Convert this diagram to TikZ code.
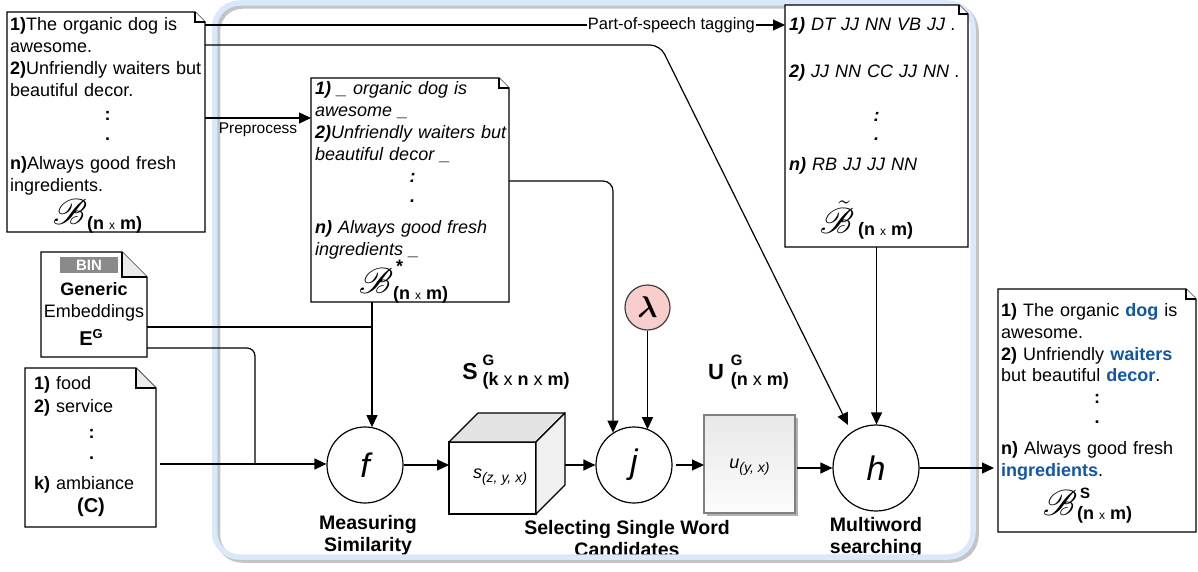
\RequirePackage{fix-cm}
\documentclass[tikz,border=0pt]{standalone}
\usepackage{graphicx}
\usepackage{fontspec}
\setmainfont{Liberation Sans}
\usepackage{mathrsfs}
\usepackage{bm}
\usetikzlibrary{arrows.meta,calc,shadows}
\definecolor{framecol}{HTML}{DAE8FC}
\definecolor{shadowcol}{HTML}{C4C4C4}
\definecolor{hlblue}{HTML}{1257A3}
\definecolor{lamfill}{HTML}{F8CECC}
\definecolor{foldfill}{HTML}{EBEBEB}
\definecolor{binfill}{HTML}{8A8A8A}
\definecolor{cubetop}{HTML}{E3E3E3}
\definecolor{cubeside}{HTML}{F0F0F0}
\newcommand\hl[1]{\textcolor{hlblue}{\textbf{#1}}}
\newcommand\bigB{\scalebox{1.45}{\fontsize{24.88}{24.88}\selectfont$\mathscr{B}$}}
\newcommand\bigBt{\scalebox{1.45}{\fontsize{24.88}{24.88}\selectfont$\tilde{\mathscr{B}}$}}
\newcommand\nxm{{\bfseries\fontsize{18}{18}\selectfont(n {\mdseries\fontsize{12}{12}\selectfont x} m)}}
\newcommand\ctr[1]{\makebox[\linewidth]{\textbf{#1}}}
\newcommand\docout[3]{%
  \draw[docline] (#1.north west) -- ($(#1.north east)+(-#2,0)$) -- ($(#1.north east)+(0,#2)$) -- (#1.south east) -- (#1.south west) -- cycle;
  \draw[docline, fill=#3] ($(#1.north east)+(-#2,0)$) -- ($(#1.north east)+(-#2,#2)$) -- ($(#1.north east)+(0,#2)$);
}
\begin{document}
\begin{tikzpicture}[x=1pt,y=-1pt,
  conn/.style={line width=1.2pt, draw=black},
  arr/.style={conn, -{Triangle[length=12pt,width=11pt]}},
  docline/.style={line width=1.2pt, draw=black, fill=white, line join=miter},
  docbox/.style={draw=none, inner sep=0pt, outer sep=0pt},
  txt/.style={inner sep=0pt, align=left, font=\fontsize{18}{22}\selectfont},
  proc/.style={circle, draw, line width=1.2pt, fill=white, minimum size=76pt, inner sep=0pt, font=\fontsize{34}{34}\selectfont\itshape},
  steplab/.style={align=center, font=\bfseries\fontsize{19.5}{22}\selectfont, inner sep=0pt},
  plain/.style={inner sep=0pt}]
\useasboundingbox (0,0) rectangle (1198,572);

% step labels (under the frame)
\node[steplab] (lf) at (368,535) {Measuring\\Similarity};
\node[steplab] (lj) at (627,539) {Selecting Single Word\\Candidates};
\node[steplab] (lh) at (876,537) {Multiword\\searching};

% frame
\draw[shadowcol, line width=5.5pt, rounded corners=25pt] (217.5,6) rectangle (976,560);
\draw[framecol, line width=5.5pt, rounded corners=25pt] (214.5,3) rectangle (973,557);

% ---- document B
\node[docbox, minimum width=198, minimum height=220] (B) at (106,122) {};
\docout{B}{10}{white}
\node[txt, anchor=base west, text width=195] (Bt) at (10,31) {%
\textbf{1)}The organic dog is\\
awesome.\\
\textbf{2)}Unfriendly waiters but\\
beautiful decor.\\[2pt]
\ctr{:}\\[-2pt]
\ctr{.}\\[7pt]
\textbf{n)}Always good fresh\\
ingredients.};
\node[plain] (Bl) at (97.5,216) {\bigB\raisebox{-5pt}{\nxm}};

% ---- document B*
\node[docbox, minimum width=198, minimum height=224] (Bs) at (410,190) {};
\docout{Bs}{10}{white}
\node[txt, anchor=base west, text width=195, font=\fontsize{18}{22}\selectfont\itshape] (Bst) at (315,95) {%
\textbf{1)} \_ organic dog is\\
awesome \_\\
\textbf{2)}Unfriendly waiters but\\
beautiful decor \_\\
\ctr{:}\\[-2pt]
\ctr{.}\\[9pt]
\textbf{n)} Always good fresh\\
ingredients \_};
\node[plain] (Bsl) at (403.5,282) {\bigB\raisebox{-6pt}{\rlap{\hspace{3pt}\raisebox{27pt}{\bfseries\fontsize{18}{18}\selectfont *}}\nxm}};

% ---- document POS
\node[docbox, minimum width=183, minimum height=242] (POS) at (876.5,126) {};
\docout{POS}{9}{white}
\node[txt, anchor=base west, text width=175, font=\fontsize{18}{22}\selectfont\itshape] (POSt) at (789,31) {%
\textbf{1)} DT JJ NN VB JJ .\\[24.7pt]
\textbf{2)} JJ NN CC JJ NN .\\[21.8pt]
\ctr{:}\\[-2.5pt]
\ctr{.}\\[8pt]
\textbf{n)} RB JJ JJ NN};
\node[plain] (POSl) at (866.5,220) {\bigBt\hspace{4pt}\raisebox{-2pt}{\nxm}};

% ---- document output
\node[docbox, minimum width=198, minimum height=243] (Out) at (1097,410.5) {};
\docout{Out}{10}{white}
\node[txt, anchor=base west, text width=192, font=\fontsize{18}{21.7}\selectfont] (Outt) at (1001,316.7) {%
\textbf{1)} The organic \hl{dog} is\\
awesome.\\
\textbf{2)} Unfriendly \hl{waiters}\\
but beautiful \hl{decor}.\\
\ctr{:}\\[-2pt]
\ctr{.}\\[9.5pt]
\textbf{n)} Always good fresh\\
\hl{ingredients}.};
\node[plain] (Outl) at (1087.5,506) {\bigB\raisebox{-4pt}{\rlap{\hspace{3pt}\raisebox{21pt}{\bfseries\fontsize{15}{15}\selectfont S}}\nxm}};

% ---- embeddings E
\node[docbox, minimum width=106, minimum height=105] (E) at (94,304.5) {};
\docout{E}{25}{foldfill}
\node[fill=binfill, text=white, minimum width=58, minimum height=16, inner sep=0pt, font=\bfseries\fontsize{15}{15}\selectfont] (Ebin) at (89,265) {BIN};
\node[plain, font=\bfseries\fontsize{18}{18}\selectfont] (Egen) at (94,289) {Generic};
\node[plain, font=\fontsize{18}{18}\selectfont] (Eemb) at (94,313) {Embeddings};
\node[plain, font=\bfseries\fontsize{20}{20}\selectfont] (Eeg) at (91,337) {E\raisebox{7pt}{\fontsize{13}{13}\selectfont G}};

% ---- categories C
\node[docbox, minimum width=131, minimum height=159] (C) at (90.5,447.5) {};
\docout{C}{20}{foldfill}
\node[txt, anchor=base west, text width=115, font=\fontsize{18}{23.4}\selectfont] (Ct) at (34,389.3) {%
\textbf{1)} food\\
\textbf{2)} service\\[2pt]
\ctr{:}\\[-2pt]
\ctr{.}\\[6.4pt]
\textbf{k)} ambiance};
\node[plain, font=\bfseries\fontsize{20}{20}\selectfont] (Cl) at (91,507) {(C)};

% ---- processes
\node[proc] (f) at (365,465) {f};
\node[proc] (j) at (634,465) {j};
\node[proc, minimum size=86pt] (h) at (876,468) {h};
\node[circle, draw=black!75, fill=lamfill, line width=1.2pt, minimum size=45pt, inner sep=0pt, font=\fontsize{30}{30}\selectfont] (lam) at (647.5,307.5) {$\bm{\lambda}$};

% cube S
\node[draw, line width=1.2pt, fill=white, minimum width=87, minimum height=72, inner sep=0pt, outer sep=0pt] (cube) at (492.5,478) {};
\draw[line width=1.2pt, fill=cubetop, line join=round] (cube.north west) -- ++(29,-29) -- ++(87,0) -- (cube.north east) -- cycle;
\draw[line width=1.2pt, fill=cubeside, line join=round] (cube.north east) -- ++(29,-29) -- ++(0,72) -- (cube.south east) -- cycle;
\node[plain, font=\fontsize{18}{18}\selectfont\itshape] (cubet) at (500,477) {s\raisebox{-4pt}{\fontsize{14}{14}\selectfont(z, y, x)}};

% U box
\node[draw=black!50, line width=1.2pt, top color=black!9, bottom color=black!1, minimum width=91, minimum height=98, inner sep=0pt, outer sep=0pt,
  drop shadow={shadow xshift=3pt, shadow yshift=-3pt, fill=black!30, opacity=1}] (U) at (749.5,464) {};
\node[plain, font=\fontsize{18}{18}\selectfont\itshape] (Ut) at (749.5,467) {u\raisebox{-4pt}{\fontsize{14}{14}\selectfont(y, x)}};

% S^G and U^G labels
\node[plain] (SGl) at (516,372) {{\fontsize{23}{23}\selectfont\bfseries S}\hspace{5pt}\raisebox{-6pt}{\rlap{\raisebox{20pt}{\bfseries\fontsize{15}{15}\selectfont G}}\bfseries\fontsize{18}{18}\selectfont(k {\mdseries x} n {\mdseries x} m)}};
\node[plain] (UGl) at (748.5,372.5) {{\fontsize{22}{22}\selectfont\bfseries U}\hspace{7pt}\raisebox{-6pt}{\rlap{\raisebox{20pt}{\bfseries\fontsize{15}{15}\selectfont G}}\bfseries\fontsize{18}{18}\selectfont(n {\mdseries x} m)}};

% ---- connectors
\coordinate (bsf) at ($(Bs.south west)+(61,0)$);
\coordinate (e1) at ($(E.south east)+(0,-30)$);
\coordinate (e2) at ($(E.south east)+(0,-9)$);
\coordinate (c1) at ($(C.east)+(4,16.5)$);
\coordinate (hd) at ($(h.center)+(-28,-43)$);

\draw[arr] ($(B.north east)+(0,13)$) -- node[pos=0.804, fill=white, inner sep=1pt, font=\fontsize{16.5}{16.5}\selectfont] (post) {Part-of-speech tagging} ($(POS.north west)+(0,20)$);
\draw[arr, rounded corners=10pt] ($(B.north east)+(0,33)$) -- (660,45) -- (hd);
\draw[arr] ($(B.north east)+(0,106)$) -- node[below=4pt, inner sep=0pt, font=\fontsize{15.5}{15.5}\selectfont] (pp) {Preprocess} ($(Bs.north west)+(0,40)$);
\draw[arr, rounded corners=10pt] ($(Bs.north east)+(0,103)$) -| (j.123);
\draw[arr] (lam.south) -- (lam.south |- j.68);
\draw[arr] (bsf) -- (bsf |- f.79);
\draw[conn] (e1) -- (e1 -| bsf);
\draw[conn, rounded corners=8pt] (e2) -| ($(c1)+(95,0)$);
\draw[arr] (c1) -- (c1 -| f.west);
\draw[arr] (f.east) -- (f.east -| cube.west);
\draw[arr] ($(j.west -| cube.east)+(29,0)$) -- (j.west);
\draw[arr] ($(j.east)+(3,0)$) -- (j.east -| U.west);
\draw[arr] ($(h.west -| U.east)+(2,0)$) -- (h.west);
\draw[arr] (h.east) -- ($(h.east -| Out.west)+(-4,0)$);
\draw[arr] (POS.south) -- (POS.south |- h.north);
\end{tikzpicture}
\end{document}
